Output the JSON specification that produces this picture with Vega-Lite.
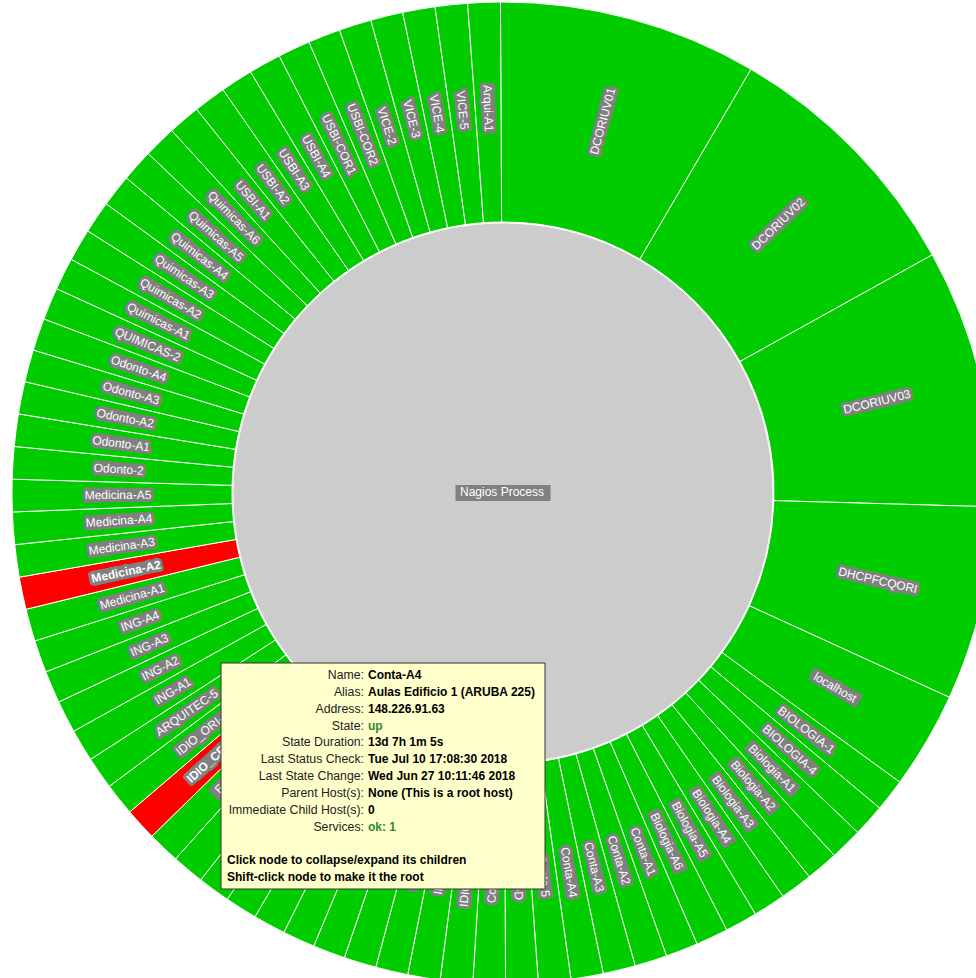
{
  "$schema": "https://vega.github.io/schema/vega-lite/v6.json",
  "width": 946,
  "height": 970,
  "autosize": {"type": "none"},
  "padding": {"left": 30, "top": 8, "right": 0, "bottom": 0},
  "background": "white",
  "view": {"stroke": null},
  "config": {"font": "Liberation Sans"},
  "datasets": {
    "hub": [{"host": "Nagios Process"}],
    "hosts": [
      {"host": "DCORIUV01", "state": "up", "leaves": 8},
      {"host": "DCORIUV02", "state": "up", "leaves": 8},
      {"host": "DCORIUV03", "state": "up", "leaves": 8},
      {"host": "DHCPFCQORI", "state": "up", "leaves": 6},
      {"host": "localhost", "state": "up", "leaves": 3},
      {"host": "BIOLOGIA-1", "state": "up", "leaves": 1},
      {"host": "BIOLOGIA-4", "state": "up", "leaves": 1},
      {"host": "Biologia-A1", "state": "up", "leaves": 1},
      {"host": "Biologia-A2", "state": "up", "leaves": 1},
      {"host": "Biologia-A3", "state": "up", "leaves": 1},
      {"host": "Biologia-A4", "state": "up", "leaves": 1},
      {"host": "Biologia-A5", "state": "up", "leaves": 1},
      {"host": "Biologia-A6", "state": "up", "leaves": 1},
      {"host": "Conta-A1", "state": "up", "leaves": 1},
      {"host": "Conta-A2", "state": "up", "leaves": 1},
      {"host": "Conta-A3", "state": "up", "leaves": 1},
      {"host": "Conta-A4", "state": "up", "leaves": 1},
      {"host": "Conta-5", "state": "up", "leaves": 1},
      {"host": "Conta-D", "state": "up", "leaves": 1},
      {"host": "Conta-B1", "state": "up", "leaves": 1},
      {"host": "IDIOMAS-1", "state": "up", "leaves": 1},
      {"host": "IDIO-A2", "state": "up", "leaves": 1},
      {"host": "IDIO-A3", "state": "up", "leaves": 1},
      {"host": "IDIO-A4", "state": "up", "leaves": 1},
      {"host": "IDIO-A5", "state": "up", "leaves": 1},
      {"host": "IDIO-A6", "state": "up", "leaves": 1},
      {"host": "IDIO-B1", "state": "up", "leaves": 1},
      {"host": "IDIO-B2", "state": "up", "leaves": 1},
      {"host": "IDIO-B3", "state": "up", "leaves": 1},
      {"host": "IDIO-B4", "state": "up", "leaves": 1},
      {"host": "Edificio-A1", "state": "up", "leaves": 1},
      {"host": "IDIO_CENTRO", "state": "down", "leaves": 1},
      {"host": "IDIO_ORI-1", "state": "up", "leaves": 1},
      {"host": "ARQUITEC-5", "state": "up", "leaves": 1},
      {"host": "ING-A1", "state": "up", "leaves": 1},
      {"host": "ING-A2", "state": "up", "leaves": 1},
      {"host": "ING-A3", "state": "up", "leaves": 1},
      {"host": "ING-A4", "state": "up", "leaves": 1},
      {"host": "Medicina-A1", "state": "up", "leaves": 1},
      {"host": "Medicina-A2", "state": "down", "leaves": 1},
      {"host": "Medicina-A3", "state": "up", "leaves": 1},
      {"host": "Medicina-A4", "state": "up", "leaves": 1},
      {"host": "Medicina-A5", "state": "up", "leaves": 1},
      {"host": "Odonto-2", "state": "up", "leaves": 1},
      {"host": "Odonto-A1", "state": "up", "leaves": 1},
      {"host": "Odonto-A2", "state": "up", "leaves": 1},
      {"host": "Odonto-A3", "state": "up", "leaves": 1},
      {"host": "Odonto-A4", "state": "up", "leaves": 1},
      {"host": "QUIMICAS-2", "state": "up", "leaves": 1},
      {"host": "Quimicas-A1", "state": "up", "leaves": 1},
      {"host": "Quimicas-A2", "state": "up", "leaves": 1},
      {"host": "Quimicas-A3", "state": "up", "leaves": 1},
      {"host": "Quimicas-A4", "state": "up", "leaves": 1},
      {"host": "Quimicas-A5", "state": "up", "leaves": 1},
      {"host": "Quimicas-A6", "state": "up", "leaves": 1},
      {"host": "USBI-A1", "state": "up", "leaves": 1},
      {"host": "USBI-A2", "state": "up", "leaves": 1},
      {"host": "USBI-A3", "state": "up", "leaves": 1},
      {"host": "USBI-A4", "state": "up", "leaves": 1},
      {"host": "USBI-COR1", "state": "up", "leaves": 1},
      {"host": "USBI-COR2", "state": "up", "leaves": 1},
      {"host": "VICE-2", "state": "up", "leaves": 1},
      {"host": "VICE-3", "state": "up", "leaves": 1},
      {"host": "VICE-4", "state": "up", "leaves": 1},
      {"host": "VICE-5", "state": "up", "leaves": 1},
      {"host": "Arqui-A1", "state": "up", "leaves": 1}
    ],
    "tip": [
      {"key": "Name:", "val": "Conta-A4", "tone": "plain"},
      {"key": "Alias:", "val": "Aulas Edificio 1 (ARUBA 225)", "tone": "plain"},
      {"key": "Address:", "val": "148.226.91.63", "tone": "plain"},
      {"key": "State:", "val": "up", "tone": "status"},
      {"key": "State Duration:", "val": "13d 7h 1m 5s", "tone": "plain"},
      {"key": "Last Status Check:", "val": "Tue Jul 10 17:08:30 2018", "tone": "plain"},
      {"key": "Last State Change:", "val": "Wed Jun 27 10:11:46 2018", "tone": "plain"},
      {"key": "Parent Host(s):", "val": "None (This is a root host)", "tone": "plain"},
      {"key": "Immediate Child Host(s):", "val": "0", "tone": "plain"},
      {"key": "Services:", "val": "\u00a0ok: 1", "tone": "status"}
    ],
    "notes": [
      {"note": "Click node to collapse/expand its children"},
      {"note": "Shift-click node to make it the root"}
    ]
  },
  "layer": [
    {
      "data": {"name": "hub"},
      "mark": {"type": "arc", "theta": 0, "theta2": 6.2832, "radius": 270, "radius2": 0, "fill": "#cccccc", "stroke": "#ffffff", "strokeWidth": 1},
      "encoding": {}
    },
    {
      "data": {"name": "hosts"},
      "transform": [{"stack": "leaves", "groupby": [], "as": ["s0", "s1"]}],
      "mark": {"type": "arc", "radius": 491, "radius2": 271, "stroke": "#ffffff", "strokeWidth": 1},
      "encoding": {
        "theta": {"field": "s0", "type": "quantitative", "scale": {"domain": [0, 94], "range": [-0.005236, 6.277949]}},
        "theta2": {"field": "s1"},
        "color": {"field": "state", "type": "nominal", "scale": {"domain": ["up", "down"], "range": ["#00cc00", "#ff0000"]}, "legend": null}
      }
    },
    {
      "data": {"name": "hosts"},
      "transform": [{"stack": "leaves", "groupby": [], "as": ["s0", "s1"]}],
      "mark": {
        "type": "arc",
        "fill": "#808080",
        "theta": {"expr": "(((datum.s0 + datum.s1) * 180 / 94 - 0.3) - 1.05) * PI / 180"},
        "theta2": {"expr": "(((datum.s0 + datum.s1) * 180 / 94 - 0.3) + 1.05) * PI / 180"},
        "radius": {"expr": "385 + length(datum.host) * 3.0 + 1"},
        "radius2": {"expr": "385 - length(datum.host) * 3.0 - 1"}
      },
      "encoding": {}
    },
    {
      "data": {"name": "hosts"},
      "transform": [{"stack": "leaves", "groupby": [], "as": ["s0", "s1"]}],
      "mark": {
        "type": "text",
        "radius": 385,
        "theta": {"expr": "((datum.s0 + datum.s1) * 180 / 94 - 0.3) * PI / 180"},
        "angle": {"expr": "((datum.s0 + datum.s1) * 180 / 94 - 0.3) < 180 ? ((datum.s0 + datum.s1) * 180 / 94 - 0.3) - 90 : ((datum.s0 + datum.s1) * 180 / 94 - 0.3) - 270"},
        "fontWeight": {"expr": "datum.state === 'down' ? 'bold' : 'normal'"},
        "align": "center",
        "baseline": "middle",
        "fontSize": 12,
        "fill": "#808080",
        "stroke": "#808080",
        "strokeWidth": 6,
        "strokeJoin": "round"
      },
      "encoding": {"text": {"field": "host"}}
    },
    {
      "data": {"name": "hosts"},
      "transform": [{"stack": "leaves", "groupby": [], "as": ["s0", "s1"]}],
      "mark": {
        "type": "text",
        "radius": 385,
        "theta": {"expr": "((datum.s0 + datum.s1) * 180 / 94 - 0.3) * PI / 180"},
        "angle": {"expr": "((datum.s0 + datum.s1) * 180 / 94 - 0.3) < 180 ? ((datum.s0 + datum.s1) * 180 / 94 - 0.3) - 90 : ((datum.s0 + datum.s1) * 180 / 94 - 0.3) - 270"},
        "fontWeight": {"expr": "datum.state === 'down' ? 'bold' : 'normal'"},
        "align": "center",
        "baseline": "middle",
        "fontSize": 12,
        "fill": "#ffffff"
      },
      "encoding": {"text": {"field": "host"}}
    },
    {
      "data": {"name": "hub"},
      "mark": {"type": "point", "shape": "M-47.5,-8H47.5V8H-47.5Z", "size": 4, "filled": true, "fill": "#808080", "opacity": 1, "strokeWidth": 0},
      "encoding": {}
    },
    {
      "data": {"name": "hub"},
      "mark": {"type": "text", "align": "center", "baseline": "middle", "fontSize": 12, "fill": "#ffffff", "dx": -1, "dy": -1},
      "encoding": {"text": {"field": "host"}}
    },
    {
      "data": {"name": "hub"},
      "mark": {"type": "rect", "x": 191, "x2": 515, "y": 655, "y2": 881, "fill": "#ffffcc", "stroke": "#333333", "strokeWidth": 1},
      "encoding": {}
    },
    {
      "data": {"name": "tip"},
      "mark": {"type": "text", "align": "right", "baseline": "middle", "fontSize": 12.3, "x": 334, "fill": "#222222"},
      "encoding": {
        "y": {"field": "key", "type": "ordinal", "axis": null, "scale": {"type": "point", "padding": 0, "domain": ["Name:", "Alias:", "Address:", "State:", "State Duration:", "Last Status Check:", "Last State Change:", "Parent Host(s):", "Immediate Child Host(s):", "Services:", "", "Click node to collapse/expand its children", "Shift-click node to make it the root"], "range": [667, 869.3]}},
        "text": {"field": "key"}
      }
    },
    {
      "data": {"name": "tip"},
      "mark": {"type": "text", "align": "left", "baseline": "middle", "fontSize": 12, "fontWeight": "bold", "x": 338},
      "encoding": {
        "y": {"field": "key", "type": "ordinal", "axis": null},
        "text": {"field": "val"},
        "color": {"condition": {"test": "datum.tone === 'status'", "value": "#2e8b2e"}, "value": "#000000"}
      }
    },
    {
      "data": {"name": "notes"},
      "mark": {"type": "text", "align": "left", "baseline": "middle", "fontSize": 12, "fontWeight": "bold", "x": 197, "fill": "#000000"},
      "encoding": {
        "y": {"field": "note", "type": "ordinal", "axis": null},
        "text": {"field": "note"}
      }
    }
  ]
}
